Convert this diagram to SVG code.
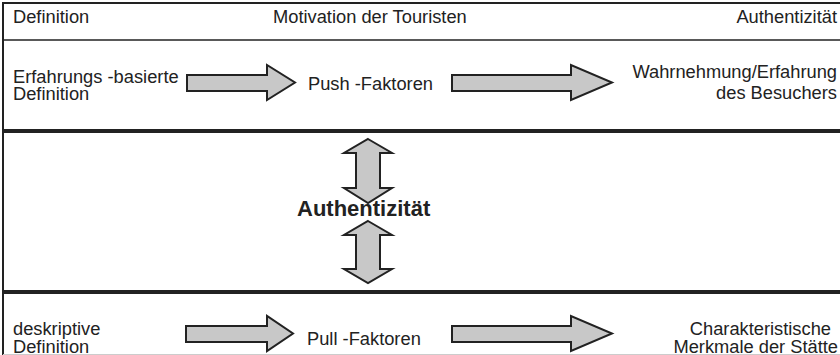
<svg xmlns="http://www.w3.org/2000/svg" width="840" height="355" viewBox="0 0 840 355">
<style>
.t{font-family:"Liberation Sans",Arial,sans-serif;font-size:18.3px;fill:#222}
.b{font-family:"Liberation Sans",Arial,sans-serif;font-size:22px;font-weight:bold;fill:#222}
.r{text-anchor:end}
.ar{fill:#c8c8c8;stroke:#222;stroke-width:2;stroke-linejoin:miter}
.ln{stroke:#222;fill:none}
</style>
<rect width="840" height="355" fill="#fff"/>
<g id="frame">
<line class="ln" x1="3" y1="3" x2="840" y2="3" stroke-width="2"/>
<line class="ln" x1="3" y1="2" x2="3" y2="355" stroke-width="2"/>
<line class="ln" x1="3" y1="40" x2="840" y2="40" stroke-width="1.5"/>
<line class="ln" x1="3" y1="131" x2="840" y2="131" stroke-width="4"/>
<line class="ln" x1="3" y1="292" x2="840" y2="292" stroke-width="4"/>
<line x1="3" y1="354.5" x2="840" y2="354.5" stroke="#ccc" stroke-width="1"/>
</g>
<g id="header">
<text class="t" x="13" y="23">Definition</text>
<text class="t" x="273" y="23">Motivation der Touristen</text>
<text class="t r" x="837" y="23">Authentizität</text>
</g>
<g id="n-erfahrung">
<text class="t" x="13" y="83">Erfahrungs -basierte</text>
<text class="t" x="13" y="100">Definition</text>
</g>
<g id="n-push"><text class="t" x="308" y="89.5">Push -Faktoren</text></g>
<g id="n-wahrnehmung">
<text class="t r" x="837" y="78">Wahrnehmung/Erfahrung</text>
<text class="t r" x="837" y="99">des Besuchers</text>
</g>
<g id="n-auth"><text class="b" x="297" y="215.5">Authentizität</text></g>
<g id="n-deskriptiv">
<text class="t" x="13" y="335">deskriptive</text>
<text class="t" x="13" y="352.5">Definition</text>
</g>
<g id="n-pull"><text class="t" x="307" y="345">Pull -Faktoren</text></g>
<g id="n-merkmale">
<text class="t r" x="831" y="335">Charakteristische</text>
<text class="t r" x="838" y="352.5">Merkmale der Stätte</text>
</g>
<g id="connectors">
<polygon class="ar" points="187,75 267,75 267,65 295,82.5 267,100 267,91 187,91"/>
<polygon class="ar" points="452,75 571,75 571,65 612,82.5 571,100 571,91 452,91"/>
<polygon class="ar" points="186,326 267,326 267,316 293,333.5 267,351 267,342 186,342"/>
<polygon class="ar" points="452,326 571,326 571,316 612,333.5 571,351 571,342 452,342"/>
<polygon class="ar" points="368,139 392,153 380,153 380,188 392,188 368,203 344,188 356,188 356,153 344,153"/>
<polygon class="ar" points="368,221 392,235 380,235 380,269 392,269 368,283 344,269 356,269 356,235 344,235"/>
</g>
</svg>
